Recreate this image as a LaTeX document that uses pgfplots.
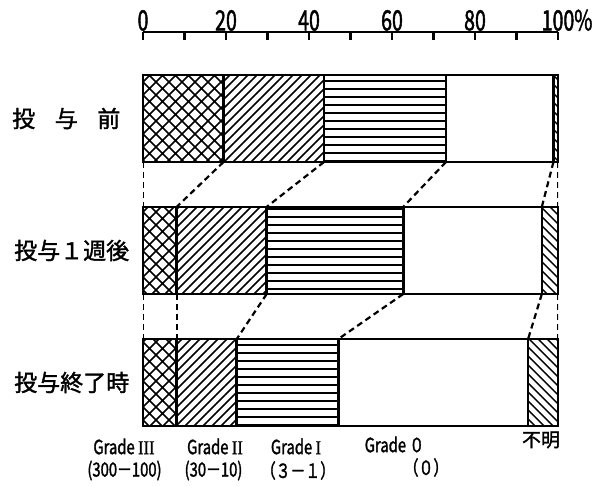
\documentclass[border=0pt]{standalone}
\usepackage{fontspec}
\setmainfont{Noto Sans CJK JP}[FakeBold=1.5]
\newfontfamily\nfont[FakeStretch=0.7, FakeBold=1.5]{Noto Sans CJK JP}
\newfontfamily\lfont[FakeStretch=0.76, FakeBold=1.5]{Noto Sans CJK JP}
\newfontfamily\rfont[FakeStretch=0.85, FakeBold=1.2]{Liberation Serif}
\usepackage{pgfplots}
\pgfplotsset{compat=1.18}
\usetikzlibrary{patterns}

\pgfdeclarepatternformonly{bigcross}{\pgfpoint{-1pt}{-1pt}}{\pgfpoint{14pt}{14pt}}{\pgfpoint{13pt}{13pt}}{%
  \pgfsetlinewidth{1.6pt}%
  \pgfpathmoveto{\pgfpoint{0pt}{0pt}}\pgfpathlineto{\pgfpoint{13.1pt}{13.1pt}}%
  \pgfpathmoveto{\pgfpoint{13.1pt}{0pt}}\pgfpathlineto{\pgfpoint{0pt}{13.1pt}}%
  \pgfusepath{stroke}}
\pgfdeclarepatternformonly{bigne}{\pgfpoint{-1pt}{-1pt}}{\pgfpoint{10pt}{10pt}}{\pgfpoint{9pt}{9pt}}{%
  \pgfsetlinewidth{1.5pt}%
  \pgfpathmoveto{\pgfpoint{0pt}{0pt}}\pgfpathlineto{\pgfpoint{9.1pt}{9.1pt}}%
  \pgfusepath{stroke}}
\pgfdeclarepatternformonly{bignw}{\pgfpoint{-1pt}{-1pt}}{\pgfpoint{10pt}{10pt}}{\pgfpoint{9pt}{9pt}}{%
  \pgfsetlinewidth{1.5pt}%
  \pgfpathmoveto{\pgfpoint{9.1pt}{0pt}}\pgfpathlineto{\pgfpoint{0pt}{9.1pt}}%
  \pgfusepath{stroke}}
\pgfdeclarepatternformonly{bighl}{\pgfpoint{-1pt}{0pt}}{\pgfpoint{9pt}{8pt}}{\pgfpoint{8pt}{8pt}}{%
  \pgfsetlinewidth{1.5pt}%
  \pgfpathmoveto{\pgfpoint{-1pt}{4pt}}\pgfpathlineto{\pgfpoint{9pt}{4pt}}%
  \pgfusepath{stroke}}

\pgfplotsset{
  base/.style={
    scale only axis, width=415pt, height=416.5pt,
    at={(143pt,36.5pt)}, anchor=south west,
    xmin=0, xmax=100, ymin=-0.655, ymax=2.5, y dir=reverse,
  },
  conn/.style={black, line width=2.2pt, dash pattern=on 6pt off 4pt, no marks},
  bar/.style={draw=black, line width=2.6pt},
}

\begin{document}
\begin{tikzpicture}
\useasboundingbox (0,0) rectangle (604pt,485pt);

% connectors
\begin{axis}[base, hide axis]
\addplot[conn] coordinates {(0,0.33) (0,0.67)};
\addplot[conn] coordinates {(19.4,0.33) (8.1,0.67)};
\addplot[conn] coordinates {(43.6,0.33) (29.8,0.67)};
\addplot[conn] coordinates {(73.0,0.33) (62.7,0.67)};
\addplot[conn] coordinates {(98.9,0.33) (96.1,0.67)};
\addplot[conn] coordinates {(100,0.33) (100,0.67)};
\addplot[conn] coordinates {(0,1.33) (0,1.67)};
\addplot[conn] coordinates {(8.1,1.33) (8.1,1.67)};
\addplot[conn] coordinates {(29.8,1.33) (22.6,1.67)};
\addplot[conn] coordinates {(62.7,1.33) (47.1,1.67)};
\addplot[conn] coordinates {(96.1,1.33) (92.8,1.67)};
\addplot[conn] coordinates {(100,1.33) (100,1.67)};
\end{axis}

% bars
\begin{axis}[base,
  xbar stacked, bar width=0.66,
  axis x line=top, axis y line=none,
  x axis line style={-, line width=2.4pt},
  xtick={0,20,40,60,80,100},
  xticklabels={0,20,40,60,80,100\rlap{\%}},
  minor xtick={10,30,50,70,90},
  tick align=inside,
  major tick length=8pt, minor tick length=8pt,
  major tick style={black, line width=2.4pt},
  minor tick style={black, line width=2.4pt},
  /pgf/number format/assume math mode=true,
  xticklabel style={font=\nfont\fontsize{28}{28}\selectfont, inner sep=1pt},
  ytick=\empty,
  clip=false,
]
\addplot[bar, pattern=bigcross] coordinates {(19.4,0) (8.1,1) (8.1,2)};
\addplot[bar, pattern=bigne] coordinates {(24.2,0) (21.7,1) (14.5,2)};
\addplot[bar, pattern=bighl] coordinates {(29.4,0) (32.9,1) (24.5,2)};
\addplot[bar, fill=white] coordinates {(25.9,0) (33.4,1) (45.7,2)};
\addplot[bar, pattern=bignw] coordinates {(1.1,0) (3.9,1) (7.2,2)};
\end{axis}

% row labels
\begin{scope}[every node/.style={inner sep=0pt, anchor=west, font=\fontsize{23}{23}\selectfont}]
\node at (12pt,366.5pt) {投\hspace{0.85em}与\hspace{0.85em}前};
\node at (14pt,234.5pt) {投与１週後};
\node at (14pt,102.5pt) {投与終了時};
\end{scope}

% category labels
\begin{scope}[every node/.style={inner sep=0pt, anchor=center, font=\lfont\fontsize{19.5}{19.5}\selectfont}]
\node at (124pt,38.5pt) {Grade {\rfont III}};
\node at (124.5pt,14.5pt) {(300－100)};
\node at (215pt,38.5pt) {Grade {\rfont II}};
\node at (213.5pt,14.5pt) {(30－10)};
\node at (296pt,38.5pt) {Grade {\rfont I}};
\node at (298pt,14.5pt) {（３－１）};
\node at (394.5pt,40.5pt) {Grade ０};
\node at (426pt,17.5pt) {（０）};
\end{scope}
\node[inner sep=0pt, font=\fontsize{19}{19}\selectfont] at (541pt,45pt) {不明};
\end{tikzpicture}
\end{document}
